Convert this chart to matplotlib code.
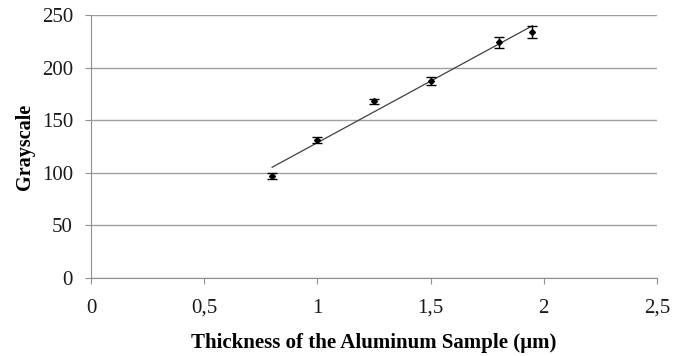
import numpy as np
import matplotlib
matplotlib.use("Agg")
import matplotlib.pyplot as plt

plt.rcParams["font.family"] = ["Liberation Serif", "DejaVu Serif"]

thickness = [0.8, 1.0, 1.25, 1.5, 1.8, 1.95]
grayscale = [97, 131, 168, 187, 224, 234]
errors = [2.5, 3, 2.5, 4, 5, 6]

fig = plt.figure(figsize=(6.83, 3.56), dpi=100)
ax = fig.add_axes([91 / 683, 1 - 278 / 356, (657 - 91) / 683, (278 - 15) / 356])

# linear trend line across the data range
slope, intercept = np.polyfit(thickness, grayscale, 1)
xs = np.array([min(thickness), max(thickness)])
ax.plot(xs, slope * xs + intercept, color="#404040", lw=0.9, zorder=2)

ax.errorbar(thickness, grayscale, yerr=errors, fmt="D", ms=3, color="black",
            ecolor="black", elinewidth=1, capsize=3.5, capthick=1, zorder=3)

ax.set_xlim(0, 2.5)
ax.set_ylim(0, 250)
ax.set_xticks([0, 0.5, 1, 1.5, 2, 2.5])
ax.set_xticklabels(["0", "0,5", "1", "1,5", "2", "2,5"])
ax.set_yticks(range(0, 251, 50))
ax.yaxis.grid(True, color="#a0a0a0", lw=1)
ax.set_axisbelow(True)
for s in ["top", "right"]:
    ax.spines[s].set_visible(False)
for s in ["left", "bottom"]:
    ax.spines[s].set_color("#909090")
ax.tick_params(axis="both", colors="#909090", labelcolor="#1a1a1a", labelsize=15,
               length=4, direction="out")
ax.tick_params(axis="x", pad=11)
ax.tick_params(axis="y", pad=9)
ax.set_xlabel("Thickness of the Aluminum Sample (µm)", fontsize=15, fontweight="bold", labelpad=11)
ax.set_ylabel("Grayscale", fontsize=14.5, fontweight="bold", labelpad=5)

fig.savefig("out.png", dpi=100)
